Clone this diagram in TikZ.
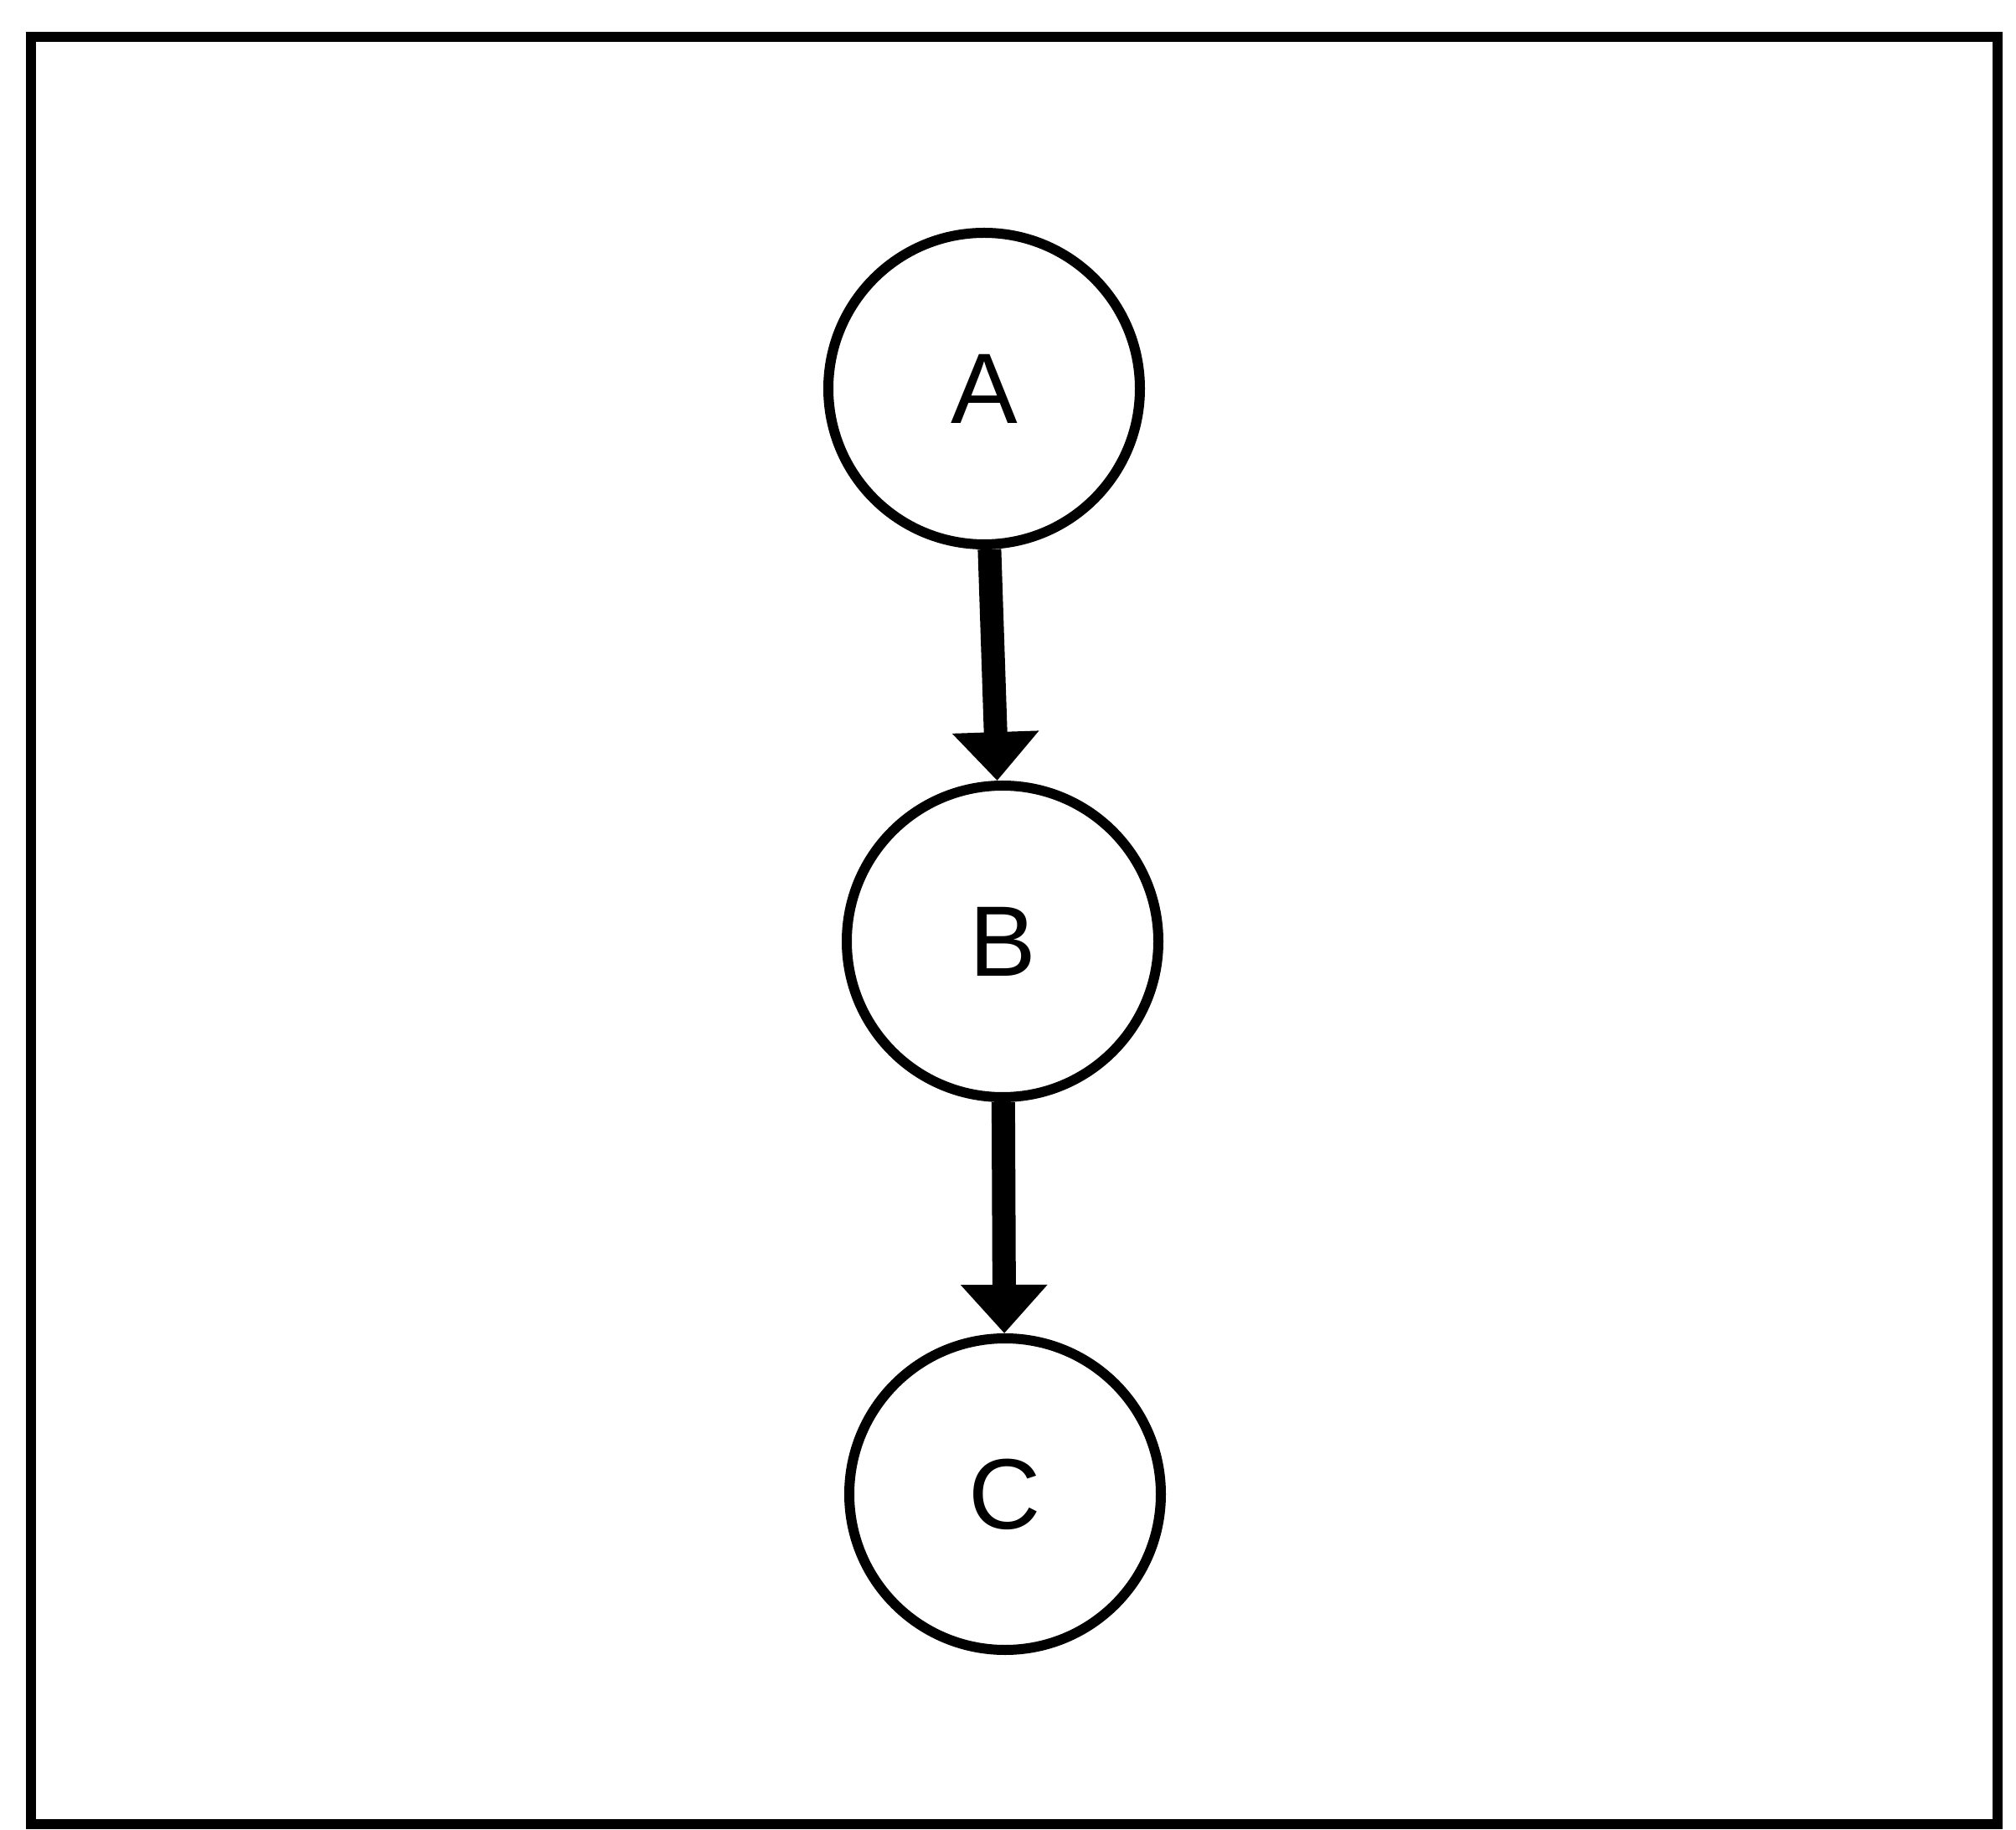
\documentclass[tikz,border=0pt]{standalone}
\usepackage{fontspec}
\setmainfont{Liberation Sans}
\usepackage{tikz}
\usetikzlibrary{automata, positioning}
\usetikzlibrary{arrows.meta}

\begin{document}
\begin{tikzpicture}[node distance=6.6cm, auto,
	every state/.style={draw, line width=0.12cm, minimum size=3.72cm, inner sep=0pt, font=\fontsize{34}{40}\selectfont},
	>={Triangle[width=1cm,length=0.58cm]}, shorten >=0pt]
	\useasboundingbox (0,0) rectangle (24.07,21.84);
	\draw[line width=0.12cm] (0.37,0.06) rectangle (23.85,21.40);

	\node[state]   		(sa)  at (11.75,17.20)  		{A};
	\node[state]   		(sb)  [below of=sa, xshift=2.2mm]  	{B};
	\node[state]   		(sc)  [below of=sb, xshift=0.3mm]  	{C};

	\path[->, line width=0.28cm]
			(sa) edge[] 	(sb)
			(sb) edge[] 	(sc)
			;
\end{tikzpicture}
\end{document}
